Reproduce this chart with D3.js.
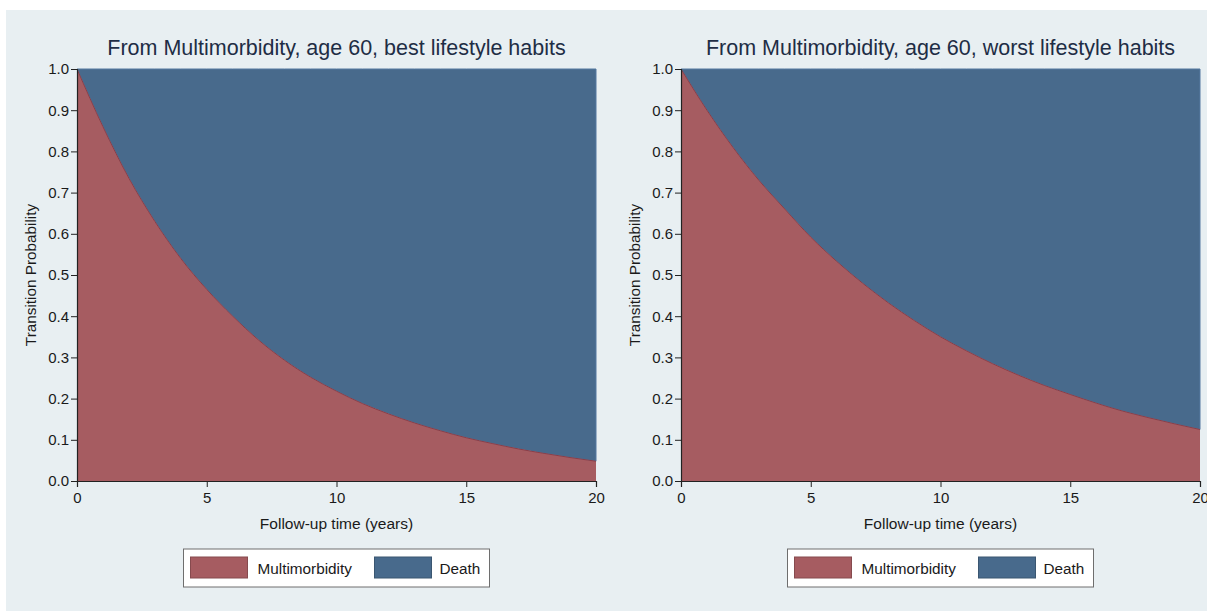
<!DOCTYPE html>
<html>
<head>
<meta charset="utf-8">
<script src="https://cdn.jsdelivr.net/npm/d3@7"></script>
<style>
  html, body { margin: 0; padding: 0; background: #ffffff; }
  svg { display: block; font-family: "Liberation Sans", Arial, sans-serif; }
</style>
</head>
<body>
<svg id="chart" width="1207" height="611"></svg>
<script>
// Follow-up time in years
const years = [0, 1, 2, 3, 4, 5, 6, 7, 8, 9, 10, 11, 12, 13, 14, 15, 16, 17, 18, 19, 20];

// Probability of remaining in the multimorbidity state (the rest is death)
const bestMultimorbidity = [1.00, 0.86, 0.735, 0.63, 0.54, 0.465, 0.40, 0.342, 0.293, 0.252, 0.218,
  0.188, 0.163, 0.141, 0.122, 0.105, 0.091, 0.078, 0.067, 0.057, 0.048];
const worstMultimorbidity = [1.00, 0.90, 0.81, 0.73, 0.66, 0.592, 0.533, 0.48, 0.432, 0.389, 0.35,
  0.316, 0.285, 0.257, 0.232, 0.21, 0.189, 0.17, 0.154, 0.139, 0.125];

const panelTitles = [
  "From Multimorbidity, age 60, best lifestyle habits",
  "From Multimorbidity, age 60, worst lifestyle habits"
];
const stateLabels = ["Multimorbidity", "Death"];
const xTicks = [0, 5, 10, 15, 20];
const yTicks = [0, 0.1, 0.2, 0.3, 0.4, 0.5, 0.6, 0.7, 0.8, 0.9, 1.0];
const xTitle = "Follow-up time (years)";
const yTitle = "Transition Probability";

const colors = { multi: "#a65c61", death: "#486a8c", text: "#1a1a1a", title: "#1e2d45" };

const svg = d3.select("#chart");

// panel background
svg.append("rect")
  .attr("x", 6).attr("y", 10)
  .attr("width", 1207 - 6).attr("height", 611 - 10)
  .attr("fill", "#e8eff2");

function drawPanel(left, values, title) {
  const top = 69, bottom = 481, right = left + 519;
  const x = d3.scaleLinear().domain([0, 20]).range([left, right]);
  const y = d3.scaleLinear().domain([0, 1]).range([bottom, top]);
  const rows = years.map((t, i) => ({ t, p: values[i] }));
  const g = svg.append("g");

  // death: between the multimorbidity curve and 1
  g.append("path")
    .datum(rows)
    .attr("fill", colors.death)
    .attr("stroke", "#5578a0")
    .attr("stroke-width", 1)
    .attr("d", d3.area().curve(d3.curveMonotoneX)
      .x(d => x(d.t)).y0(y(1)).y1(d => y(d.p)));

  // multimorbidity: from 0 up to the curve
  g.append("path")
    .datum(rows)
    .attr("fill", colors.multi)
    .attr("d", d3.area().curve(d3.curveMonotoneX)
      .x(d => x(d.t)).y0(y(0)).y1(d => y(d.p)));

  g.append("path")
    .datum(rows)
    .attr("fill", "none")
    .attr("stroke", "#8b3e48")
    .attr("stroke-width", 1)
    .attr("d", d3.line().curve(d3.curveMonotoneX).x(d => x(d.t)).y(d => y(d.p)));

  // axes
  const yAxis = g.append("g")
    .attr("transform", `translate(${left},0)`)
    .call(d3.axisLeft(y).tickValues(yTicks).tickFormat(d3.format(".1f")).tickSize(6).tickPadding(2));
  const xAxis = g.append("g")
    .attr("transform", `translate(0,${bottom})`)
    .call(d3.axisBottom(x).tickValues(xTicks).tickSize(6).tickPadding(5));
  [yAxis, xAxis].forEach(a => {
    a.select(".domain").attr("stroke", "#222").attr("stroke-width", 1.2);
    a.selectAll(".tick line").attr("stroke", "#222");
    a.selectAll(".tick text")
      .attr("fill", colors.text)
      .style("font-size", "15px")
      .style("font-family", "'Liberation Sans', Arial, sans-serif");
  });

  const cx = (left + right) / 2;
  g.append("text")
    .attr("x", cx).attr("y", 55)
    .attr("text-anchor", "middle")
    .attr("fill", colors.title)
    .style("font-size", "21.5px")
    .text(title);

  g.append("text")
    .attr("x", cx).attr("y", 529)
    .attr("text-anchor", "middle")
    .attr("fill", colors.text)
    .style("font-size", "15.5px")
    .text(xTitle);

  g.append("text")
    .attr("transform", `translate(${left - 41},${(top + bottom) / 2}) rotate(-90)`)
    .attr("text-anchor", "middle")
    .attr("fill", colors.text)
    .style("font-size", "15.3px")
    .text(yTitle);

  // legend
  const lx = cx - 153, ly = 549;
  const lg = g.append("g").attr("transform", `translate(${lx},${ly})`);
  lg.append("rect")
    .attr("x", 0).attr("y", 0).attr("width", 306).attr("height", 38)
    .attr("fill", "#ffffff").attr("stroke", "#6e6e6e").attr("stroke-width", 1);
  const items = [
    { label: stateLabels[0], color: colors.multi, sx: 7, tx: 74 },
    { label: stateLabels[1], color: colors.death, sx: 191, tx: 256 }
  ];
  items.forEach(it => {
    lg.append("rect")
      .attr("x", it.sx).attr("y", 8).attr("width", 57).attr("height", 21)
      .attr("fill", it.color)
      .attr("stroke", d3.color(it.color).darker(0.6)).attr("stroke-width", 1);
    lg.append("text")
      .attr("x", it.tx).attr("y", 25)
      .attr("fill", colors.text)
      .style("font-size", "15.3px")
      .text(it.label);
  });
}

drawPanel(77, bestMultimorbidity, panelTitles[0]);
drawPanel(681, worstMultimorbidity, panelTitles[1]);
</script>
</body>
</html>
